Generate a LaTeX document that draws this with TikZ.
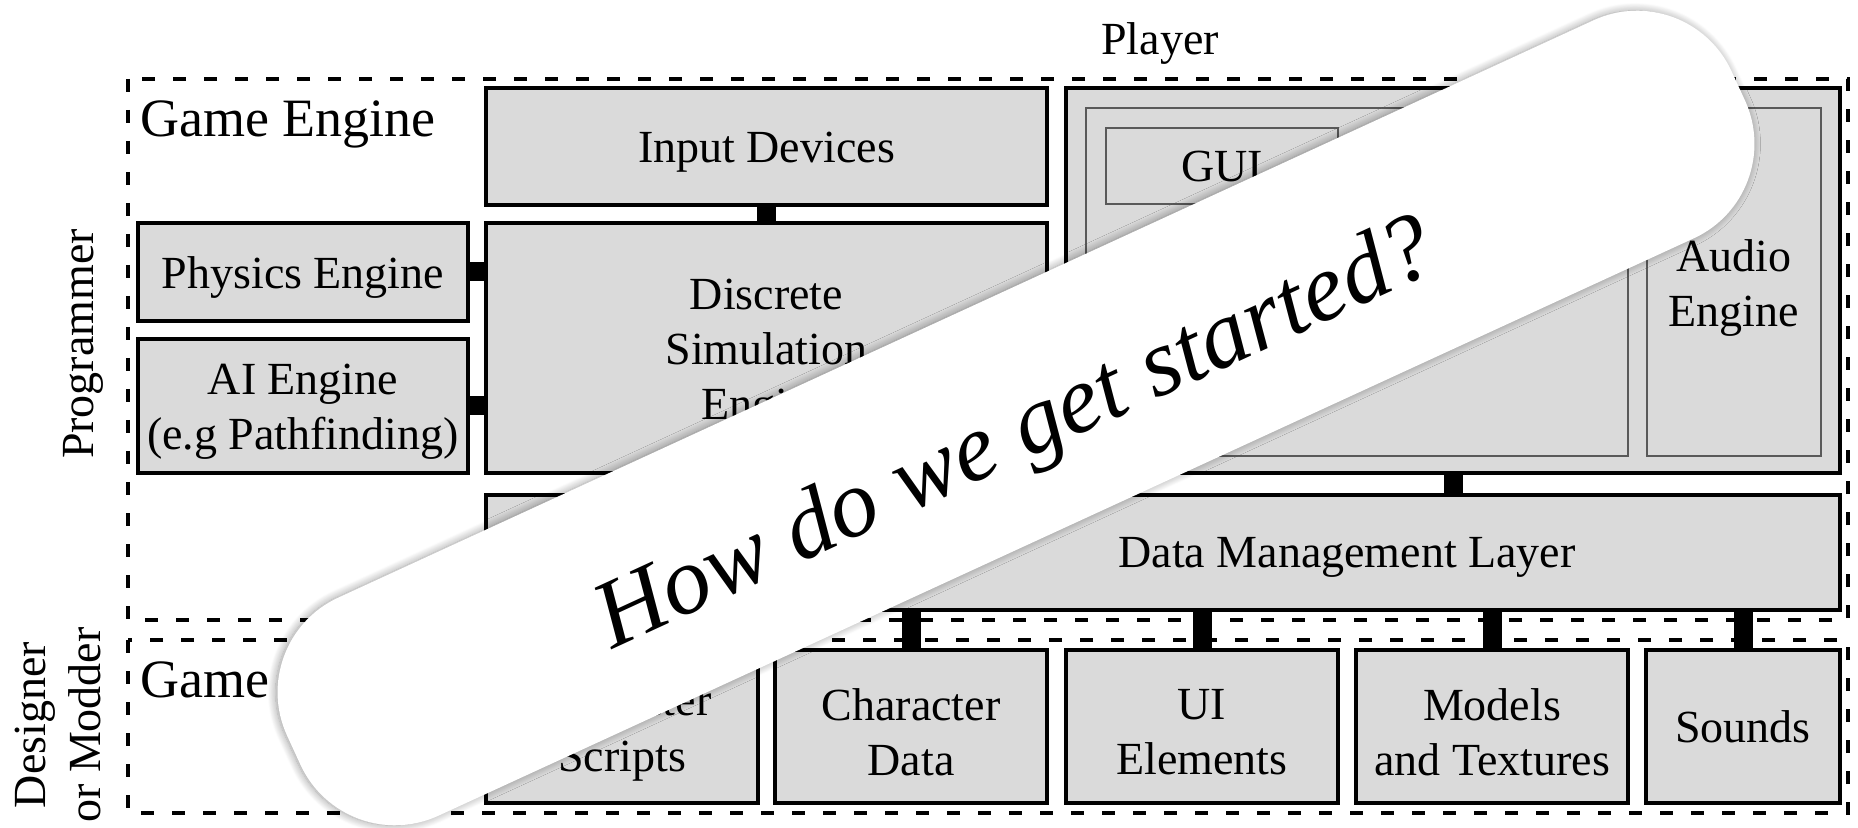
\documentclass[tikz,border=0pt]{standalone}
\usepackage{fontspec}
\setmainfont{Liberation Serif}
\usetikzlibrary{shadows.blur}
\definecolor{boxgray}{RGB}{218,218,218}
\tikzset{
  region/.style={draw, line width=1.9pt, dash pattern=on 6.5pt off 9pt},
  dims/.style 2 args={minimum width=#1*0.5pt, minimum height=#2*0.5pt},
  caption/.style={font=\fontsize{23}{27.6}\selectfont, align=center, inner sep=0pt},
  % box text sits a little below the geometric centre of the box
  boxtext/.style={label={[caption, yshift=-3pt]center:#1}},
  % single lines without descenders stay centred
  flattext/.style={label={[caption]center:#1}},
  block/.style={draw, line width=1.6pt, fill=boxgray, inner sep=0pt},
  subblock/.style={draw=black!65, line width=0.6pt, fill=boxgray, inner sep=0pt},
  link/.style={line width=9.5pt},
  regiontitle/.style={font=\fontsize{27}{31}\selectfont, anchor=base west, inner sep=0pt},
  sticker/.style={fill=white, rounded corners=52pt, inner sep=0pt,
    blur shadow={shadow xshift=-1pt, shadow yshift=0pt, shadow blur radius=4pt,
      shadow opacity=40, shadow blur steps=12}},
}
\begin{document}
\begin{tikzpicture}[x=0.5pt, y=-0.5pt]
\useasboundingbox (0,0) rectangle (1858,828);

% dashed regions
\path[region] (128,79) rectangle (1848,620);
\path[region] (128,640) rectangle (1848,813);

\node[regiontitle] (enginetitle) at (140,137) {Game Engine};
\node[regiontitle] (contenttitle) at (140,697) {Game};

\node[caption] (player) at (1160,44) {Player};
\node[caption, rotate=90] (programmer) at (83,344) {Programmer};
\node[caption, rotate=90] (designer) at (58,725) {Designer\\or Modder};

% engine blocks
\node[block, dims={561}{117}, boxtext={Input Devices}] (input) at (766.5,146.5) {};
\node[block, dims={561}{250}, boxtext={Discrete\\Simulation\\Engine}] (sim) at (766.5,348) {};
\node[block, dims={330}{98}, boxtext={Physics Engine}] (physics) at (303,272) {};
\node[block, dims={330}{134}, boxtext={AI Engine\\(e.g Pathfinding)}] (ai) at (303,406) {};
\node[block, dims={774}{385}] (render) at (1453,280.5) {};
\node[subblock, dims={542}{348}] (graphics) at (1357,282) {};
\node[subblock, dims={232}{76}, flattext={GUI}] (gui) at (1222,166) {};
\node[subblock, dims={174}{348}, boxtext={Audio\\Engine}] (audio) at (1734,282) {};
\node[block, dims={1354}{115}] (dml) at (1163,552.5) {};
\node[caption] (dmltext) at (1347,557) {Data Management Layer};

% content blocks
\node[block, dims={272}{153}, boxtext={Character\\Scripts}] (scripts) at (622,726.5) {};
\node[block, dims={272}{153}, boxtext={Character\\Data}] (chardata) at (911,726.5) {};
\node[block, dims={272}{153}, boxtext={UI\\Elements}] (uielem) at (1202,726.5) {};
\node[block, dims={272}{153}, boxtext={Models\\and Textures}] (models) at (1492,726.5) {};
\node[block, dims={194}{153}, flattext={Sounds}] (sounds) at (1743,726.5) {};

% links
\draw[link] (input.south) -- (sim.north);
\draw[link] (physics.east) -- (physics.east -| sim.west);
\draw[link] (ai.east) -- (ai.east -| sim.west);
\draw[link] (render.south) -- (render.south |- dml.north);
\draw[link] (chardata.north) -- (chardata.north |- dml.south);
\draw[link] (uielem.north) -- (uielem.north |- dml.south);
\draw[link] (models.north) -- (models.north |- dml.south);
\draw[link] (sounds.north) -- (sounds.north |- dml.south);

% tilted sticker
\node[sticker, rotate=24.7, minimum width=795pt, minimum height=120pt] (band) at (1016,418) {};
\node[rotate=24.7, anchor=base, inner sep=0pt, font=\itshape\fontsize{48}{50}\selectfont] (question) at (1027,459) {How do we get started?};
\end{tikzpicture}
\end{document}
